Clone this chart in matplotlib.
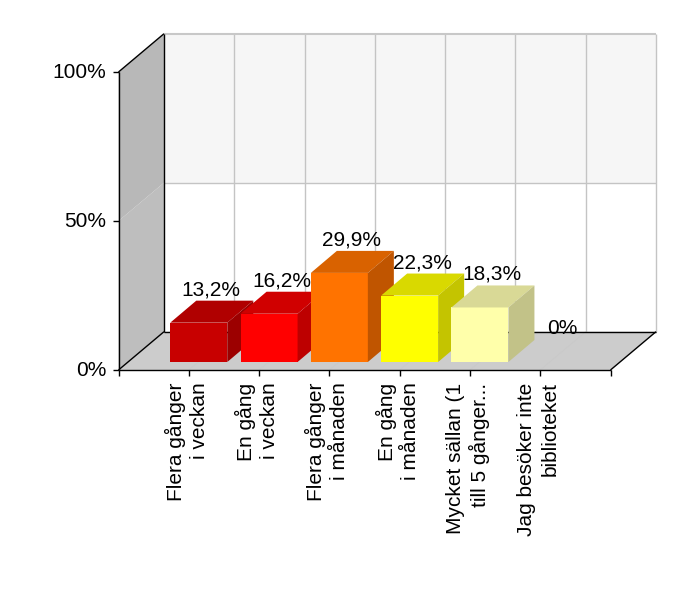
import matplotlib
matplotlib.use('Agg')
import matplotlib.pyplot as plt
from matplotlib.patches import Polygon

plt.rcParams['font.family'] = ['Liberation Sans', 'DejaVu Sans']

categories = ['Flera gånger\ni veckan', 'En gång\ni veckan', 'Flera gånger\ni månaden',
              'En gång\ni månaden', 'Mycket sällan (1\ntill 5 gånger...', 'Jag besöker inte\nbiblioteket']
values = [13.2, 16.2, 29.9, 22.3, 18.3, 0]
value_labels = ['13,2%', '16,2%', '29,9%', '22,3%', '18,3%', '0%']
y_ticks = [0, 50, 100]

front_colors = ['#c80000', '#ff0000', '#ff7300', '#ffff00', '#ffffaa', '#ffffff']
top_colors = ['#b00000', '#d00000', '#d96200', '#d9d900', '#d9d996', '#ffffff']
side_colors = ['#9c0000', '#bd0000', '#c05500', '#c4c400', '#c2c288', '#ffffff']

fig = plt.figure(figsize=(7, 6), dpi=100)
ax = fig.add_axes([118.5 / 700, 230 / 600, 492 / 700, 298 / 600])
ax.set_xlim(0, 7)
ax.set_ylim(0, 100)
ax.axis('off')

# pixel -> data
px = 7 / 492
py = 100 / 298
dx = 45.5 * px
dy = 38.3 * py


def poly(pts, color, z=1):
    ax.add_patch(Polygon(pts, closed=True, facecolor=color, edgecolor='none', clip_on=False, zorder=z))


def line(xs, ys, color='black', lw=1.0, z=3):
    ax.plot(xs, ys, color=color, lw=lw, clip_on=False, zorder=z, solid_capstyle='butt')


# paredes y piso
poly([(0, 0), (dx, dy), (dx, 50 + dy), (0, 50)], '#bebebe')
poly([(0, 50), (dx, 50 + dy), (dx, 100 + dy), (0, 100)], '#b8b8b8')
poly([(dx, 50 + dy), (7 + dx, 50 + dy), (7 + dx, 100 + dy), (dx, 100 + dy)], '#f6f6f6')
poly([(0, 0), (7, 0), (7 + dx, dy), (dx, dy)], '#cccccc')

# grilla
for i in range(1, 8):
    line([i + dx, i + dx], [dy, 100 + dy], '#c4c4c4', 1.0, 2)
line([dx, 7 + dx], [50 + dy, 50 + dy], '#c4c4c4', 1.0, 2)
line([dx, 7 + dx], [100 + dy, 100 + dy], '#c8c8c8', 1.5, 2)
for i in range(1, 7):
    line([i, i + dx], [0, dy], '#c9c9c9', 0.6, 2)

# ejes
line([0, 0], [0, 100])
line([0, dx], [100, 100 + dy])
line([dx, dx], [dy, 100 + dy])
line([0, dx], [0, dy])
line([dx, 7 + dx], [dy, dy])
line([7, 7 + dx], [0, dy])
line([0, 7], [0, 0])

for i in range(8):
    line([i, i], [0, -6 * py])
for t in y_ticks:
    line([-6 * px, 0], [t, t])
    ax.text(-12 * px, t + 0.4, '%d%%' % t, ha='right', va='center_baseline', fontsize=15, clip_on=False, zorder=10)

# barras
bw = 57 * px
bar_dx = 10 * px
bar_dy = 8 * py
ddx = 26 * px
ddy = 22 * py
for i, v in enumerate(values):
    x0 = i + 1 - bw / 2 + bar_dx
    x1 = x0 + bw
    if v > 0:
        ax.bar(x0, v, width=bw, bottom=bar_dy, align='edge', color=front_colors[i], clip_on=False, zorder=4 + i)
        top = v + bar_dy
        poly([(x0, top), (x1, top), (x1 + ddx, top + ddy), (x0 + ddx, top + ddy)], top_colors[i], 4 + i)
        poly([(x1, bar_dy), (x1 + ddx, bar_dy + ddy), (x1 + ddx, top + ddy), (x1, top)], side_colors[i], 4 + i)
    ax.text(i + 1 + bar_dx + ddx / 2 - 0.5 * px, v + bar_dy + ddy + 5.5 * py, value_labels[i], ha='center', va='baseline',
            fontsize=15, clip_on=False, zorder=20)

# etiquetas
for i, c in enumerate(categories):
    ax.text(i + 1 - 2 * px, -12.5 * py, c, rotation=90, ha='center', va='top', ma='right', fontsize=15,
            linespacing=1.27, clip_on=False, zorder=10)

fig.savefig('out.png', dpi=100, facecolor='white')
